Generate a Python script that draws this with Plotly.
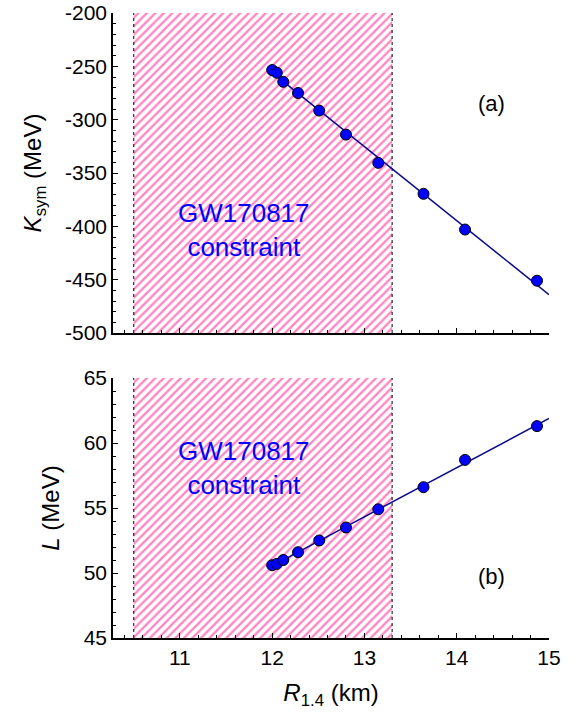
import numpy as np
import plotly.graph_objects as go

# Data
R14 = [12.00, 12.05, 12.12, 12.28, 12.51, 12.80, 13.15, 13.64, 14.09, 14.87]
Ksym = [-253.5, -256.0, -264.5, -275.0, -291.5, -314.0, -340.5, -369.5, -403.0, -451.0]
L = [50.6, 50.7, 51.0, 51.6, 52.5, 53.5, 54.9, 56.6, 58.7, 61.3]
fit_x = [12.0, 15.0]
constraint_min = 10.5
constraint_max = 13.3
top_yrange = [-500, -200]
bot_yrange = [45, 65]
x_range = [10.275, 15.0]
top_yticks = [-500, -450, -400, -350, -300, -250, -200]
top_yticklabels = ["-500", "-450", "-400", "-350", "-300", "-250", "-200"]
bot_yticks = [45, 50, 55, 60, 65]
x_ticks = [11, 12, 13, 14, 15]

PINK = "#FF0A85"
FONT = "Liberation Sans, Arial, sans-serif"

fig = go.Figure()

def add_panel(yvals, yrange, xa, ya):
    # hatched GW170817 region
    fig.add_trace(go.Scatter(
        x=[constraint_min, constraint_max, constraint_max, constraint_min, constraint_min],
        y=[yrange[0], yrange[0], yrange[1], yrange[1], yrange[0]],
        fill="toself", mode="lines", line=dict(width=0),
        fillcolor="rgba(0,0,0,0)",
        fillpattern=dict(shape="/", fgcolor=PINK, size=6, solidity=0.38),
        xaxis=xa, yaxis=ya, showlegend=False, hoverinfo="skip"))
    # dotted boundaries
    for xv in (constraint_min, constraint_max):
        fig.add_trace(go.Scatter(
            x=[xv, xv], y=yrange, mode="lines",
            line=dict(color="black", width=1, dash="dot"),
            xaxis=xa, yaxis=ya, showlegend=False, hoverinfo="skip"))
    # linear fit
    c = np.polyfit(R14, yvals, 1)
    fx = np.array(fit_x)
    fig.add_trace(go.Scatter(
        x=fx, y=np.polyval(c, fx), mode="lines",
        line=dict(color="#0A0A8C", width=1.5),
        xaxis=xa, yaxis=ya, showlegend=False))
    fig.add_trace(go.Scatter(
        x=R14, y=yvals, mode="markers",
        marker=dict(size=11, color="#0000FF", line=dict(color="black", width=1)),
        xaxis=xa, yaxis=ya, showlegend=False))

add_panel(Ksym, top_yrange, "x", "y")
add_panel(L, bot_yrange, "x2", "y2")

axis_common = dict(
    showline=True, linecolor="black", linewidth=1.5, mirror=False,
    ticks="inside", ticklen=5, tickwidth=1.2, tickcolor="black",
    showgrid=False, zeroline=False, automargin=False,
    tickfont=dict(family=FONT, size=21, color="black"),
)
minor_x = dict(ticks="inside", ticklen=3, dtick=0.2, tickcolor="black", tickwidth=1)
title_font = dict(family=FONT, size=24, color="black")

fig.update_layout(
    width=576, height=713,
    margin=dict(l=113, r=27, t=13, b=75),
    paper_bgcolor="white", plot_bgcolor="white",
    font=dict(family=FONT, color="black"),
    xaxis=dict(axis_common, domain=[0, 1], range=x_range, anchor="y",
               tickvals=x_ticks, showticklabels=False, minor=minor_x),
    yaxis=dict(axis_common, domain=[0.488, 1], range=top_yrange, anchor="x",
               tickvals=top_yticks, ticktext=top_yticklabels,
               minor=dict(ticks="inside", ticklen=3, dtick=10, tickcolor="black", tickwidth=1),
               title=dict(text="<i>K</i><sub>sym</sub> (MeV)", font=title_font, standoff=17)),
    xaxis2=dict(axis_common, domain=[0, 1], range=x_range, anchor="y2",
                tickvals=x_ticks, minor=minor_x,
                title=dict(text="<i>R</i><sub>1.4</sub> (km)", font=title_font, standoff=16)),
    yaxis2=dict(axis_common, domain=[0, 0.416], range=bot_yrange, anchor="x2",
                tickvals=bot_yticks,
                minor=dict(ticks="inside", ticklen=3, dtick=1, tickcolor="black", tickwidth=1),
                title=dict(text="<i>L</i> (MeV)", font=title_font, standoff=17)),
)

ann_font = dict(family=FONT, size=26, color="#0000FF")
fig.add_annotation(x=11.69, y=-403, xref="x", yref="y", text="GW170817<br>constraint",
                   showarrow=False, font=ann_font)
fig.add_annotation(x=11.69, y=58.1, xref="x2", yref="y2", text="GW170817<br>constraint",
                   showarrow=False, font=ann_font)
fig.add_annotation(x=14.38, y=-285, xref="x", yref="y", text="(a)",
                   showarrow=False, font=dict(family=FONT, size=22, color="black"))
fig.add_annotation(x=14.38, y=49.7, xref="x2", yref="y2", text="(b)",
                   showarrow=False, font=dict(family=FONT, size=22, color="black"))

fig.write_html("out.html", config={"displayModeBar": False},
               post_script="document.body.style.margin='0';document.body.style.padding='0';")
